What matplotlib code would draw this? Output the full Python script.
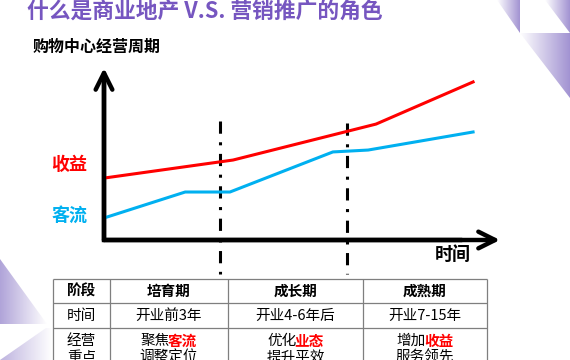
import numpy as np
import matplotlib
matplotlib.use('Agg')
import matplotlib.pyplot as plt
from matplotlib.patches import Polygon
from matplotlib.colors import LinearSegmentedColormap

plt.rcParams['font.family'] = ['Noto Sans CJK SC', 'DejaVu Sans']

# curves (time 0-10, value 0-10)
revenue_x = [0, 3.26, 6.87, 9.32]
revenue_y = [3.60, 4.65, 6.74, 9.19]
traffic_x = [0, 2.05, 3.18, 5.78, 6.67, 9.32]
traffic_y = [1.28, 2.79, 2.79, 5.12, 5.23, 6.28]
stage_breaks = [2.93, 6.14]
break_tops = [6.92, 6.80]

# table contents
table_header = ['阶段', '培育期', '成长期', '成熟期']
table_time = ['时间', '开业前3年', '开业4-6年后', '开业7-15年']
focus_label = ['经营', '重点']
focus_plain = ['聚焦', '优化', '增加']
focus_red = ['客流', '业态', '收益']
focus_second = ['调整定位', '提升平效', '服务领先']

purple = '#7656c0'
red = '#ff0000'
blue = '#00b0f0'

fig = plt.figure(figsize=(5.7, 3.6), dpi=100)
fig.patch.set_facecolor('white')

# background layer in pixel units (decoration + table)
bg = fig.add_axes([0, 0, 1, 1])
bg.axis('off')
cmap = LinearSegmentedColormap.from_list('pp', ['#ffffff', '#a293d2'])


def grad_shape(pts, dark_right=True, alpha=1.0):
    poly = Polygon(pts, closed=True, facecolor='none', edgecolor='none')
    bg.add_patch(poly)
    g = np.linspace(0, 1, 256)[None, :]
    if not dark_right:
        g = g[:, ::-1]
    xs = [p[0] for p in pts]
    ys = [p[1] for p in pts]
    im = bg.imshow(g, cmap=cmap, extent=[min(xs), max(xs), max(ys), min(ys)],
                   aspect='auto', zorder=0, interpolation='bilinear', alpha=alpha)
    im.set_clip_path(poly)


grad_shape([(497, 0), (520, 0), (520, 33)])
grad_shape([(545, 0), (570, 0), (570, 33)])
grad_shape([(520, 33), (570, 33), (570, 98)])
grad_shape([(0, 259), (0, 324), (47, 324)], dark_right=False, alpha=0.85)
grad_shape([(0, 360), (46, 328), (52, 328), (52, 360)], dark_right=False, alpha=0.7)

bg.set_xlim(0, 570)
bg.set_ylim(360, 0)

# table
col_edges = [53, 110, 228, 363, 487]
row_edges = [279, 303, 328]
bg.hlines(row_edges, col_edges[0], col_edges[-1], color='#7f7f7f', lw=0.9)
bg.vlines(col_edges, row_edges[0], 362, color='#7f7f7f', lw=0.9)
centers = [(a + b) / 2 for a, b in zip(col_edges[:-1], col_edges[1:])]
for cx, t in zip(centers, table_header):
    bg.text(cx, 291, t, ha='center', va='center', fontsize=10.5, fontweight='bold')
for cx, t in zip(centers, table_time):
    bg.text(cx, 316, t, ha='center', va='center', fontsize=10.5)
bg.text(centers[0], 341, focus_label[0], ha='center', va='center', fontsize=10.5)
bg.text(centers[0], 358, focus_label[1], ha='center', va='center', fontsize=10.5)
for cx, a, b, c in zip(centers[1:], focus_plain, focus_red, focus_second):
    bg.text(cx + 1, 341, a, ha='right', va='center', fontsize=10.5)
    bg.text(cx - 1, 341, b, ha='left', va='center', fontsize=10.5, fontweight='bold', color=red)
    bg.text(cx, 358, c, ha='center', va='center', fontsize=10.5)

# titles
fig.text(27 / 570, 1 - 12 / 360, '什么是商业地产 V.S. 营销推广的角色', fontsize=15.7,
         fontweight='bold', color=purple, ha='left', va='center')
fig.text(33 / 570, 1 - 47 / 360, '购物中心经营周期', fontsize=11.5,
         fontweight='bold', color='black', ha='left', va='center')

# chart
ax = fig.add_axes([104 / 570, 120 / 360, 396 / 570, 172 / 360])
ax.set_xlim(0, 10)
ax.set_ylim(0, 10)
ax.axis('off')
ax.patch.set_alpha(0)

ax.plot([0, 0, 0.9], [0.9, 0, 0], transform=ax.transAxes, color='black', lw=3.2,
        solid_joinstyle='miter', clip_on=False)
for tip in [(0, 1), (1, 0)]:
    ax.annotate('', xy=tip, xytext=(0, 0), xycoords='axes fraction',
                arrowprops=dict(arrowstyle='->,head_length=1.2,head_width=0.6',
                                lw=3.2, color='black', shrinkA=0, shrinkB=0))

for x, top in zip(stage_breaks, break_tops):
    ax.plot([x, x], [top, -1.98], color='black', lw=2.2,
            linestyle=(0, (4.0, 2.8, 1.0, 2.8)), clip_on=False)

ax.plot(revenue_x, revenue_y, color=red, lw=2.2, clip_on=False)
ax.plot(traffic_x, traffic_y, color=blue, lw=2.2, clip_on=False)

ax.text(-0.88, 4.42, '收益', color=red, fontsize=13, fontweight='bold', ha='center', va='center')
ax.text(-0.88, 1.45, '客流', color=blue, fontsize=13, fontweight='bold', ha='center', va='center')
ax.text(8.81, -0.87, '时间', color='black', fontsize=13, fontweight='bold', ha='center', va='center')

fig.savefig('out.png', dpi=100)
